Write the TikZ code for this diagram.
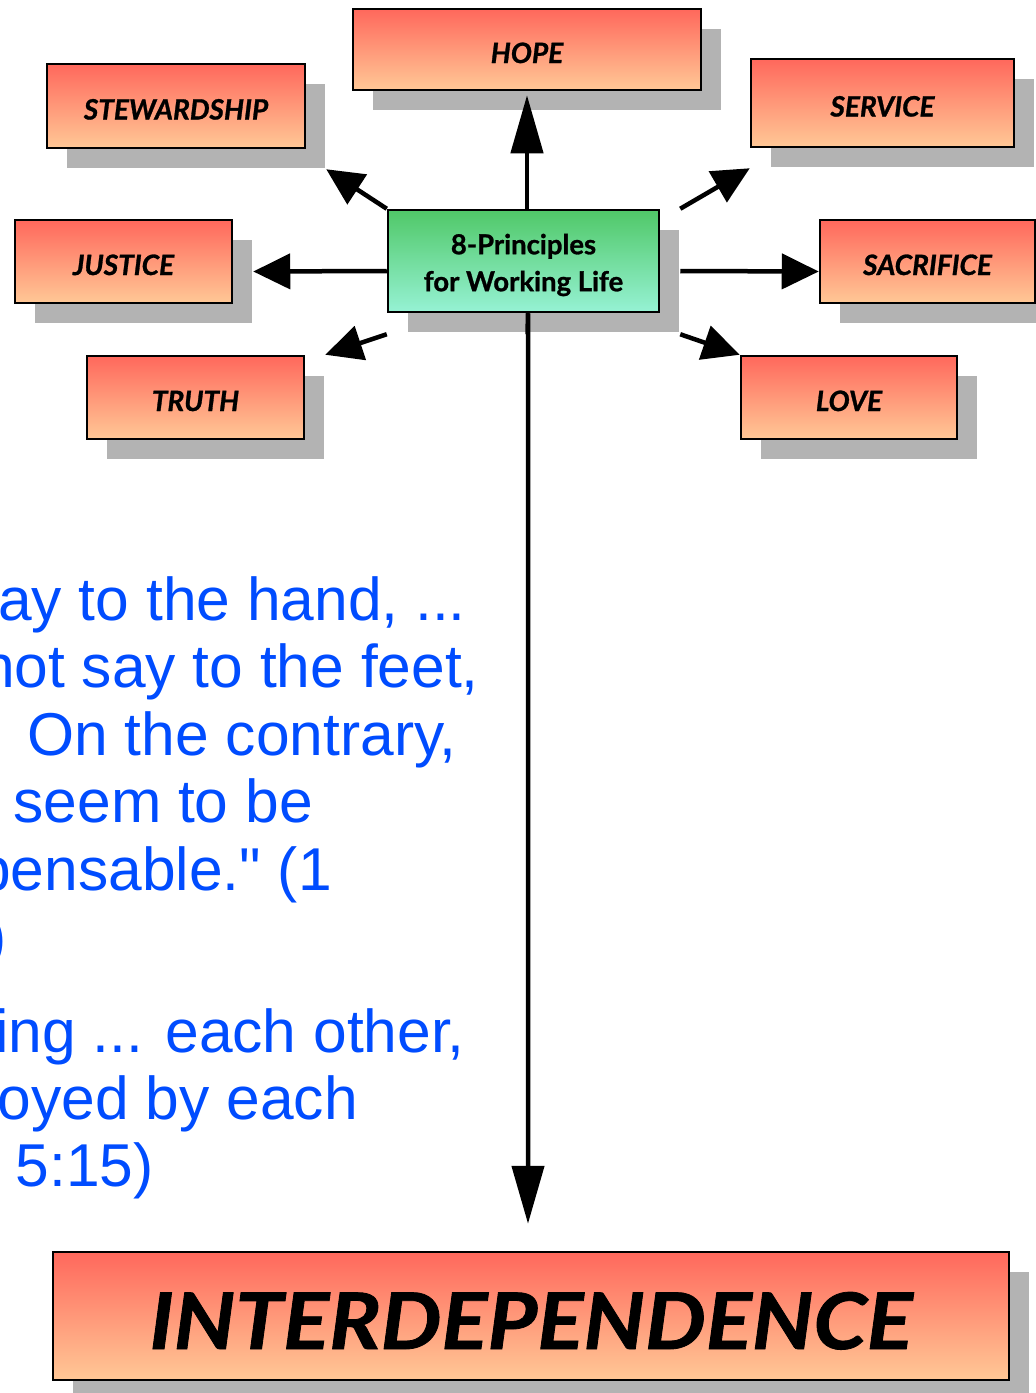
\documentclass[tikz,border=0pt]{standalone}
\usepackage{fontspec}
\setmainfont{Lato}
\newfontfamily\labf{Lato}[FakeBold=1]
\newfontfamily\arialf{Liberation Sans}
\usetikzlibrary{arrows.meta,shadows,calc}
\definecolor{boxtop}{RGB}{255,104,92}
\definecolor{boxbot}{RGB}{255,200,150}
\definecolor{grntop}{RGB}{80,200,104}
\definecolor{grnbot}{RGB}{150,242,212}
\definecolor{shgray}{RGB}{179,179,179}
\definecolor{quoteblue}{RGB}{0,76,255}
\begin{document}
\begin{tikzpicture}[x=1pt,y=-1pt,
  shadowed/.style={drop shadow={shadow xshift=20pt,shadow yshift=-20pt,fill=shgray,opacity=1}},
  redbox/.style={draw=black,line width=2.5pt,top color=boxtop,bottom color=boxbot,shadowed,inner sep=0pt,
    text height=27pt,text depth=0pt,
    font=\labf\fontsize{28pt}{30pt}\selectfont\bfseries\itshape},
  grnbox/.style={draw=black,line width=2.5pt,top color=grntop,bottom color=grnbot,shadowed,inner sep=0pt},
  grntext/.style={inner sep=0pt,align=center,font=\labf\fontsize{27.5pt}{37pt}\selectfont\bfseries},
  quote/.style={font=\arialf\fontsize{60.5pt}{67pt}\selectfont,text=quoteblue,anchor=base east,inner sep=0pt},
  conn/.style={line width=4.5pt,-{Triangle[length=37pt,width=35pt]}},
  vconn/.style={line width=4.5pt,-{Triangle[length=58pt,width=32pt]}},
]
\useasboundingbox (0,0) rectangle (1036,1393);
% principle boxes
\node[redbox,minimum width=348pt,minimum height=81pt] (hope) at (527,49.5) {HOPE};
\node[redbox,minimum width=258pt,minimum height=84pt] (stew) at (176,106) {STEWARDSHIP};
\node[redbox,minimum width=263pt,minimum height=88pt] (serv) at (882.5,103) {SERVICE};
\node[redbox,minimum width=217pt,minimum height=83pt] (just) at (123.5,261.5) {JUSTICE};
\node[redbox,minimum width=215pt,minimum height=83pt] (sacr) at (927.5,261.5) {SACRIFICE};
\node[redbox,minimum width=217pt,minimum height=83pt] (truth) at (195.5,397.5) {TRUTH};
\node[redbox,minimum width=216pt,minimum height=83pt] (love) at (849,397.5) {LOVE};
% centre
\node[grnbox,minimum width=271pt,minimum height=102pt] (ctr) at (523.5,261) {};
\node[grntext] (ctrtxt) at ($(ctr.center)+(0,4)$) {8-Principles\\for Working Life};
% bottom
\node[redbox,minimum width=956pt,minimum height=128pt,text height=66pt,
  font=\labf\fontsize{78pt}{90pt}\selectfont\bfseries\itshape] (inter) at (531,1316) {\scalebox{1.1}[1]{INTERDEPENDENCE}};
% connectors
\draw[vconn,shorten >=4pt] (ctr.north -| hope.south) -- (hope.south);
\draw[conn] (ctr.north west) -- ($(stew.south east)+(20,20)$);
\draw[conn] ($(ctr.north east)+(20,0)$) -- ($(serv.south west)+(0,20)$);
\draw[conn] ($(ctr.west)+(0,10)$) -- ($(just.east)+(20,10)$);
\draw[conn] ($(ctr.east)+(20,10)$) -- ($(sacr.west)+(0,10)$);
\draw[conn] ($(ctr.south west)+(0,21)$) -- ($(truth.north east)+(20,0)$);
\draw[conn] ($(ctr.south east)+(20,21)$) -- (love.north west);
\coordinate (downend) at ($(inter.north)+(-3,-27)$);
\draw[vconn] ($(ctr.south)+(4,21)$) -- (ctr.south -| downend) -- (downend);
% quotations
\node[quote] (q1) at (466,620) {ay to the hand, ...};
\node[quote] (q2) at (479,687) {not say to the feet,};
\node[quote] (q3) at (457,755) {On the contrary,};
\node[quote] (q4) at (313,822) {seem to be};
\node[quote] (q5) at (332,890) {pensable." (1};
\node[quote] (q6) at (7,957) {)};
\node[quote] (q7) at (465,1052) {ing ... each other,};
\node[quote] (q8) at (358,1119) {oyed by each};
\node[quote] (q9) at (154,1186) {5:15)};
\end{tikzpicture}
\end{document}
